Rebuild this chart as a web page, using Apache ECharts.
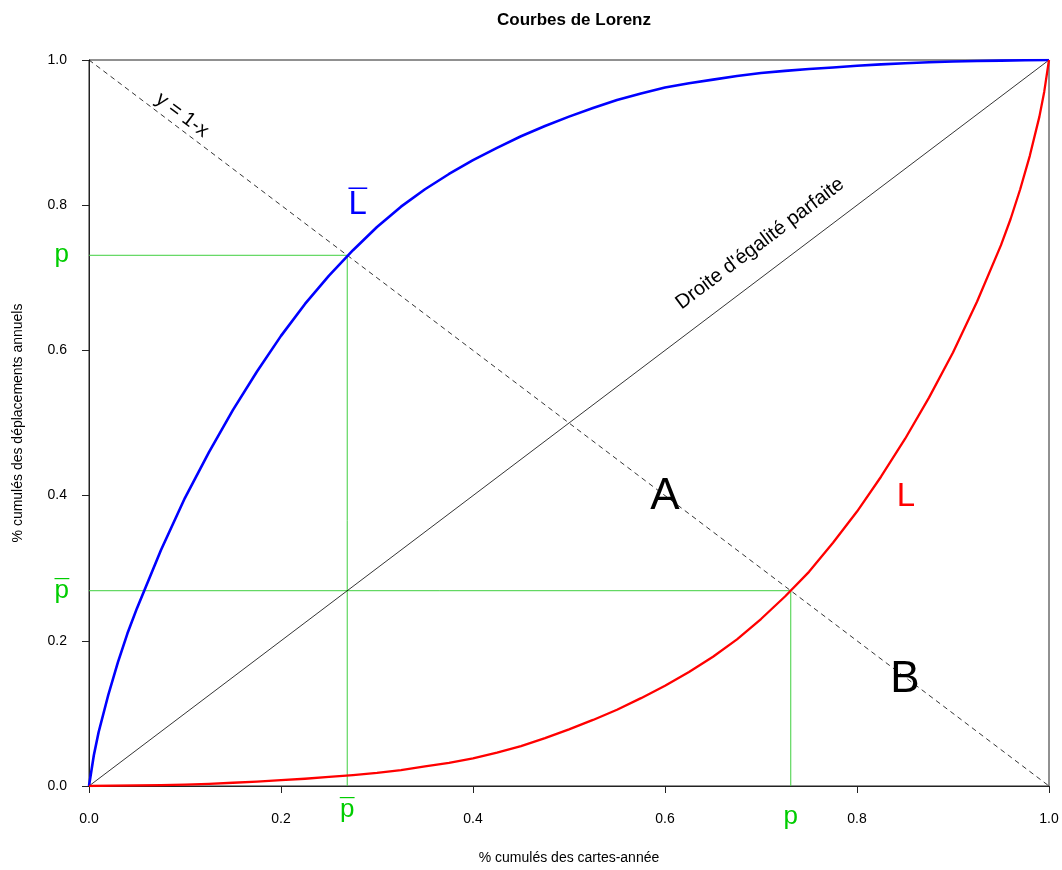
<!DOCTYPE html>
<html>
<head>
<meta charset="utf-8">
<script src="https://cdn.jsdelivr.net/npm/echarts@6/dist/echarts.min.js"></script>
<style>html,body{margin:0;padding:0;background:#fff;}#c{width:1062px;height:870px;}</style>
</head>
<body>
<div id="c"></div>
<script>
// ---- data ----
const xTicks = [0, 0.2, 0.4, 0.6, 0.8, 1.0];
const xTickLabels = ['0.0', '0.2', '0.4', '0.6', '0.8', '1.0'];
const yTicks = [0, 0.2, 0.4, 0.6, 0.8, 1.0];
const yTickLabels = ['0.0', '0.2', '0.4', '0.6', '0.8', '1.0'];

// Lorenz curve L (red)
const redX = [0, 0.025, 0.05, 0.075, 0.1, 0.125, 0.15, 0.175, 0.2, 0.225, 0.25, 0.275, 0.3, 0.325, 0.35, 0.375, 0.4, 0.425, 0.45, 0.475, 0.5, 0.525, 0.55, 0.575, 0.6, 0.625, 0.65, 0.675, 0.7, 0.725, 0.75, 0.775, 0.8, 0.825, 0.85, 0.875, 0.9, 0.925, 0.95, 0.96, 0.97, 0.98, 0.99, 0.995, 1.0];
const redY = [0, 0.0004, 0.0008, 0.0013, 0.002, 0.003, 0.0045, 0.006, 0.008, 0.010, 0.0125, 0.015, 0.018, 0.022, 0.027, 0.032, 0.038, 0.046, 0.055, 0.066, 0.078, 0.091, 0.105, 0.121, 0.138, 0.157, 0.178, 0.202, 0.230, 0.261, 0.295, 0.335, 0.378, 0.426, 0.478, 0.535, 0.597, 0.667, 0.745, 0.781, 0.822, 0.868, 0.922, 0.956, 1.0];

// Lorenz curve L-bar (blue)
const blueX = [0, 0.005, 0.01, 0.02, 0.03, 0.04, 0.05, 0.075, 0.1, 0.125, 0.15, 0.175, 0.2, 0.225, 0.25, 0.275, 0.3, 0.325, 0.35, 0.375, 0.4, 0.425, 0.45, 0.475, 0.5, 0.525, 0.55, 0.575, 0.6, 0.625, 0.65, 0.675, 0.7, 0.725, 0.75, 0.775, 0.8, 0.825, 0.85, 0.875, 0.9, 0.925, 0.95, 0.975, 1.0];
const blueY = [0, 0.042, 0.074, 0.125, 0.17, 0.21, 0.245, 0.325, 0.397, 0.46, 0.518, 0.571, 0.62, 0.664, 0.703, 0.738, 0.77, 0.798, 0.822, 0.843, 0.862, 0.879, 0.895, 0.909, 0.922, 0.934, 0.945, 0.954, 0.962, 0.968, 0.973, 0.978, 0.982, 0.985, 0.9875, 0.9897, 0.992, 0.994, 0.9955, 0.997, 0.998, 0.9987, 0.9992, 0.9996, 1.0];

const diagX = [0, 1];
const diagY = [0, 1];
const antiX = [0, 1];
const antiY = [1, 0];

const p = 0.731;
const pBar = 0.269;

// ---- chart ----
const FONT = 'Liberation Sans, Arial, sans-serif';
const GREEN = '#00CD00';
const GREEN_LINE = '#3fcf3f';
const zip = (a, b) => a.map((v, i) => [v, b[i]]);

function labelPoint(x, y, text, opts) {
  return {
    value: [x, y],
    itemStyle: {opacity: 1},
    label: Object.assign({
      show: true, formatter: text, fontFamily: FONT, position: 'inside', textBorderWidth: 0, opacity: 1
    }, opts)
  };
}

const chart = echarts.init(document.getElementById('c'), null, {renderer: 'canvas'});
const option = {
  animation: false,
  backgroundColor: '#fff',
  title: {
    text: 'Courbes de Lorenz',
    left: 569, top: 7, textAlign: 'center',
    textStyle: {fontFamily: FONT, fontSize: 17, fontWeight: 'bold', color: '#000'}
  },
  grid: {left: 89, right: 13, top: 60, bottom: 84, containLabel: false, outerBoundsMode: 'none',
    show: true, borderColor: '#222', borderWidth: 1, backgroundColor: 'transparent'},
  xAxis: {
    type: 'value', min: 0, max: 1, interval: 0.2,
    name: '% cumulés des cartes-année', nameLocation: 'middle', nameGap: 65,
    nameTextStyle: {fontFamily: FONT, fontSize: 14, color: '#000'},
    axisLine: {show: true, lineStyle: {color: '#222', width: 1}},
    axisTick: {show: true, length: 7, lineStyle: {color: '#222'}},
    axisLabel: {fontFamily: FONT, fontSize: 14, color: '#000', margin: 26,
      formatter: v => { const i = xTicks.findIndex(t => Math.abs(t - v) < 1e-9); return i >= 0 ? xTickLabels[i] : ''; }},
    splitLine: {show: false}
  },
  yAxis: {
    type: 'value', min: 0, max: 1, interval: 0.2,
    name: '% cumulés des déplacements annuels', nameLocation: 'middle', nameGap: 64,
    nameTextStyle: {fontFamily: FONT, fontSize: 14, color: '#000'},
    axisLine: {show: true, lineStyle: {color: '#222', width: 1}},
    axisTick: {show: true, length: 7, lineStyle: {color: '#222'}},
    axisLabel: {fontFamily: FONT, fontSize: 14, color: '#000', margin: 22,
      formatter: v => { const i = yTicks.findIndex(t => Math.abs(t - v) < 1e-9); return i >= 0 ? yTickLabels[i] : ''; }},
    splitLine: {show: false}
  },
  series: [
    {type: 'line', data: zip(diagX, diagY), symbol: 'none', lineStyle: {color: '#000', width: 0.8}, z: 2},
    {type: 'line', data: zip(antiX, antiY), symbol: 'none', lineStyle: {color: '#000', width: 0.8, type: [5, 4]}, z: 2},
    {type: 'line', data: [[0, p], [pBar, p], [pBar, 0]], symbol: 'none', lineStyle: {color: GREEN_LINE, width: 1}, z: 1},
    {type: 'line', data: [[0, pBar], [p, pBar], [p, 0]], symbol: 'none', lineStyle: {color: GREEN_LINE, width: 1}, z: 1},
    {type: 'line', data: zip(blueX, blueY), symbol: 'none', smooth: false, lineStyle: {color: '#0000FF', width: 2.6, join: 'round'}, z: 3},
    {type: 'line', data: zip(redX, redY), symbol: 'none', smooth: false, lineStyle: {color: '#FF0000', width: 2.3, join: 'round'}, z: 3},
    {
      type: 'scatter', symbolSize: 0, clip: false, silent: true, z: 5,
      itemStyle: {opacity: 1},
      data: [
        labelPoint(0.097, 0.924, 'y = 1-x', {rotate: -37, fontSize: 20, color: '#000'}),
        labelPoint(0.699, 0.747, "Droite d'égalité parfaite", {rotate: 37, fontSize: 20, color: '#000'}),
        labelPoint(0.280, 0.800, 'L', {fontSize: 33, color: '#0000FF'}),
        labelPoint(0.280, 0.800, '¯', {fontSize: 33, color: '#0000FF', offset: [0, -1]}),
        labelPoint(0.851, 0.398, 'L', {fontSize: 33, color: '#FF0000'}),
        labelPoint(0.600, 0.398, 'A', {fontSize: 44, color: '#000'}),
        labelPoint(0.850, 0.146, 'B', {fontSize: 44, color: '#000'}),
        // axis-side labels
        labelPoint(0, p, 'p', {position: 'left', distance: 20, fontSize: 26, color: GREEN}),
        labelPoint(0, pBar, 'p', {position: 'left', distance: 20, fontSize: 26, color: GREEN}),
        labelPoint(0, pBar, '¯', {position: 'left', distance: 20, fontSize: 26, color: GREEN, offset: [0, 0]}),
        labelPoint(pBar, 0, 'p', {position: 'bottom', distance: 11, fontSize: 26, color: GREEN}),
        labelPoint(pBar, 0, '¯', {position: 'bottom', distance: 11, fontSize: 26, color: GREEN, offset: [0, 0]}),
        labelPoint(p, 0, 'p', {position: 'bottom', distance: 18, fontSize: 26, color: GREEN})
      ]
    }
  ]
};
chart.setOption(option);
</script>
</body>
</html>
